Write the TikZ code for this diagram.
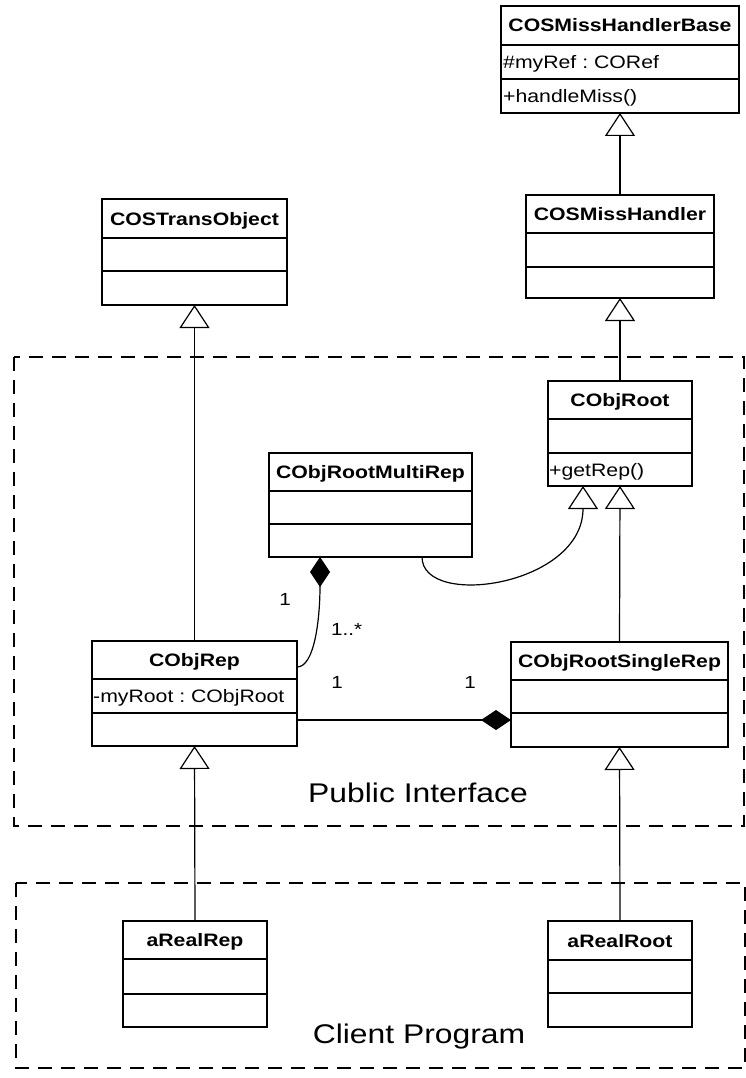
\documentclass[tikz,border=0pt]{standalone}
\usepackage{fontspec}
\setmainfont[FakeStretch=1.18]{Liberation Sans}
\usetikzlibrary{arrows.meta}
\frenchspacing

\tikzset{
  classframe/.style={draw, fill=white, line width=1.8pt, rectangle, inner sep=0pt, outer sep=0pt},
  classline/.style={line width=1.8pt},
  classname/.style={anchor=base, inner sep=0pt, font=\fontsize{18}{20}\selectfont\bfseries},
  member/.style={anchor=base west, inner sep=0pt, font=\fontsize{18}{20}\selectfont},
  mult/.style={anchor=base, inner sep=0pt, font=\fontsize{17.5}{20}\selectfont},
  pkglabel/.style={anchor=base, inner sep=0pt, font=\fontsize{27}{30}\selectfont},
  package/.style={draw, line width=1.8pt, dash pattern=on 14pt off 9pt},
  inherit/.style={line width=1.2pt, -{Triangle[open, length=23pt, width=30pt]}},
  compose/.style={line width=1.2pt, -{Diamond[length=30pt, width=20pt]}},
}

% UML class box: #1 name, #2 left, #3 top, #4 right, #5 bottom,
% #6 first divider, #7 second divider, #8 class name
\newcommand{\umlclass}[8]{%
  \node[classframe, minimum width={(#4-#2)*1pt}, minimum height={(#5-#3)*1pt}]
    (#1) at ({(#2+#4)/2},{(#3+#5)/2}) {};
  \draw[classline] (#2,#6) -- (#4,#6) (#2,#7) -- (#4,#7);
  \node[classname] (#1-title) at ({(#2+#4)/2},{(#3+#6)/2+6.5}) {#8};
}

\begin{document}
\begin{tikzpicture}[x=1pt, y=-1pt]
\useasboundingbox (0,0) rectangle (746,1078);

% packages
\draw[package] (14,357) rectangle (744,826);
\draw[package] (16,883) rectangle (745,1068);
\node[pkglabel] (publbl) at (418,802) {Public Interface};
\node[pkglabel] (clilbl) at (419,1043) {Client Program};

% classes
\umlclass{cmhb}{501}{6}{739}{113}{45}{79}{COSMissHandlerBase}
\node[member] (cmhb-attr) at (503,68.5) {\#myRef : CORef};
\node[member] (cmhb-op) at (503,102.5) {+handleMiss()};

\umlclass{cmh}{526}{195}{714}{298}{233}{267}{COSMissHandler}
\umlclass{cto}{102}{199}{287}{305}{238}{271}{COSTransObject}

\umlclass{croot}{548}{381}{692}{486}{419}{453}{CObjRoot}
\node[member] (croot-op) at (549,476) {+getRep()};

\umlclass{crm}{269}{453}{472}{557}{491}{524}{CObjRootMultiRep}

\umlclass{crep}{92}{641}{297}{746}{679}{713}{CObjRep}
\node[member] (crep-attr) at (93,702.5) {-myRoot : CObjRoot};

\umlclass{crsr}{511}{642}{728}{747}{680}{713}{CObjRootSingleRep}

\umlclass{arep}{123}{921}{267}{1027}{959}{994}{aRealRep}
\umlclass{aroot}{548}{921}{692}{1027}{960}{993}{aRealRoot}

% generalizations
\draw[inherit] (cmh.north) -- (cmhb.south);
\draw[inherit] (croot.north) -- (cmh.south);
\draw[inherit] (crep.north) -- (cto.south);
\draw[inherit] (arep.north) -- (crep.south);
\draw[inherit] (aroot.north) -- (crsr.south);
\draw[inherit] (crsr.north) -- (croot.south);
\draw[inherit] (crm.south -| 422,0) .. controls +(0,52) and +(0,100) .. (croot.south -| 583,0);

% compositions
\draw[compose] (crep.east |- 0,667) .. controls +(18,0) and +(0,60) .. (crm.south -| 320,0);
\draw[compose] (crep.east |- 0,720) -- (crsr.west |- 0,720);

% multiplicities
\node[mult] (m1) at (285,605) {1};
\node[mult, anchor=base west] (m2) at (331,635) {1..*};
\node[mult] (m3) at (337,688) {1};
\node[mult] (m4) at (470,688) {1};
\end{tikzpicture}
\end{document}
